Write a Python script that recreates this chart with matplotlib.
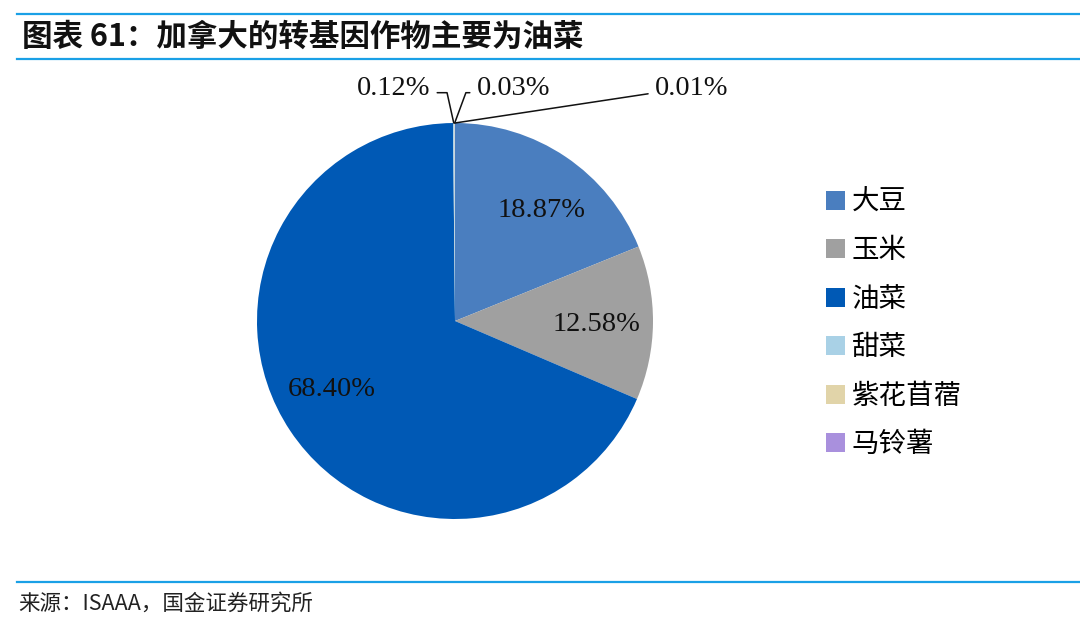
import matplotlib
matplotlib.use("Agg")
import matplotlib.pyplot as plt
from matplotlib.lines import Line2D
import numpy as np

plt.rcParams['font.family'] = ['Noto Sans CJK SC', 'DejaVu Sans']

categories = ['大豆', '玉米', '油菜', '甜菜', '紫花苜蓿', '马铃薯']
values = [18.87, 12.58, 68.40, 0.12, 0.03, 0.01]
labels = ['18.87%', '12.58%', '68.40%', '0.12%', '0.03%', '0.01%']
colors = ['#4A7EBF', '#A0A0A0', '#0059B5', '#A9D1E6', '#E1D4A9', '#A990DD']

title = '图表 61：加拿大的转基因作物主要为油菜'
source = '来源：ISAAA，国金证券研究所'

W, H = 1080, 619
fig = plt.figure(figsize=(W / 100, H / 100), dpi=100)

# rules
blue = '#1AA0E6'
for y in (14, 59, 582):
    fig.add_artist(Line2D([17 / W, 1.0], [1 - y / H, 1 - y / H], color=blue, lw=1.6))

fig.text(22 / W, 1 - 37 / H, title, fontsize=22, fontweight='bold', ha='left', va='center', color='#111111')
fig.text(18 / W, 1 - 604 / H, source, fontsize=15.5, ha='left', va='center', color='#222222')

cx, cy, r = 455, 321, 198
ax = fig.add_axes([(cx - r) / W, (H - cy - r) / H, 2 * r / W, 2 * r / H])
wedges, _ = ax.pie(values, colors=colors, startangle=90, counterclock=False,
                   radius=1.0, wedgeprops=dict(linewidth=0))
ax.set_xlim(-1, 1)
ax.set_ylim(-1, 1)
ax.axis('off')

num_font = dict(family='Liberation Serif', fontsize=20.5, color='#111111')

# big labels (small pixel nudges to match placement)
nudges = [(8, -6), (1, -2), (-6, 9)]
for w, lab, (dx, dy) in zip(wedges[:3], labels[:3], nudges):
    th = np.deg2rad((w.theta1 + w.theta2) / 2)
    ax.annotate(lab, xy=(0.71 * np.cos(th), 0.71 * np.sin(th)),
                xytext=(dx * 0.72, dy * 0.72), textcoords='offset points',
                ha='center', va='center', **num_font)

# small labels with leader lines
small_cfg = [
    # (text x, text y, ha, relpos, angleB)
    (-0.125, 1.172, 'right', (1.0, 0.35), 102.5),
    (0.11, 1.172, 'left', (0.0, 0.35), 69.7),
    (1.01, 1.172, 'left', (0.0, 0.35), 8.6),
]
for w, lab, (tx, ty, ha, rp, angB) in zip(wedges[3:], labels[3:], small_cfg):
    th = np.deg2rad((w.theta1 + w.theta2) / 2)
    px, py = np.cos(th), np.sin(th)
    ax.annotate(lab, xy=(px, py), xytext=(tx, ty), ha=ha, va='center',
                annotation_clip=False,
                arrowprops=dict(arrowstyle='-', color='#111111', lw=1.1,
                                shrinkA=3, shrinkB=0, relpos=rp,
                                connectionstyle=f'angle,angleA=0,angleB={angB},rad=0'),
                **num_font)

leg = fig.legend(wedges, categories, loc='upper left',
                 bbox_to_anchor=(826 / W, 1 - 189 / H), frameon=False,
                 fontsize=19.8, handlelength=0.68, handleheight=0.68,
                 handletextpad=0.25, labelspacing=0.78, borderpad=0, borderaxespad=0)

fig.savefig('out.png', dpi=100)
